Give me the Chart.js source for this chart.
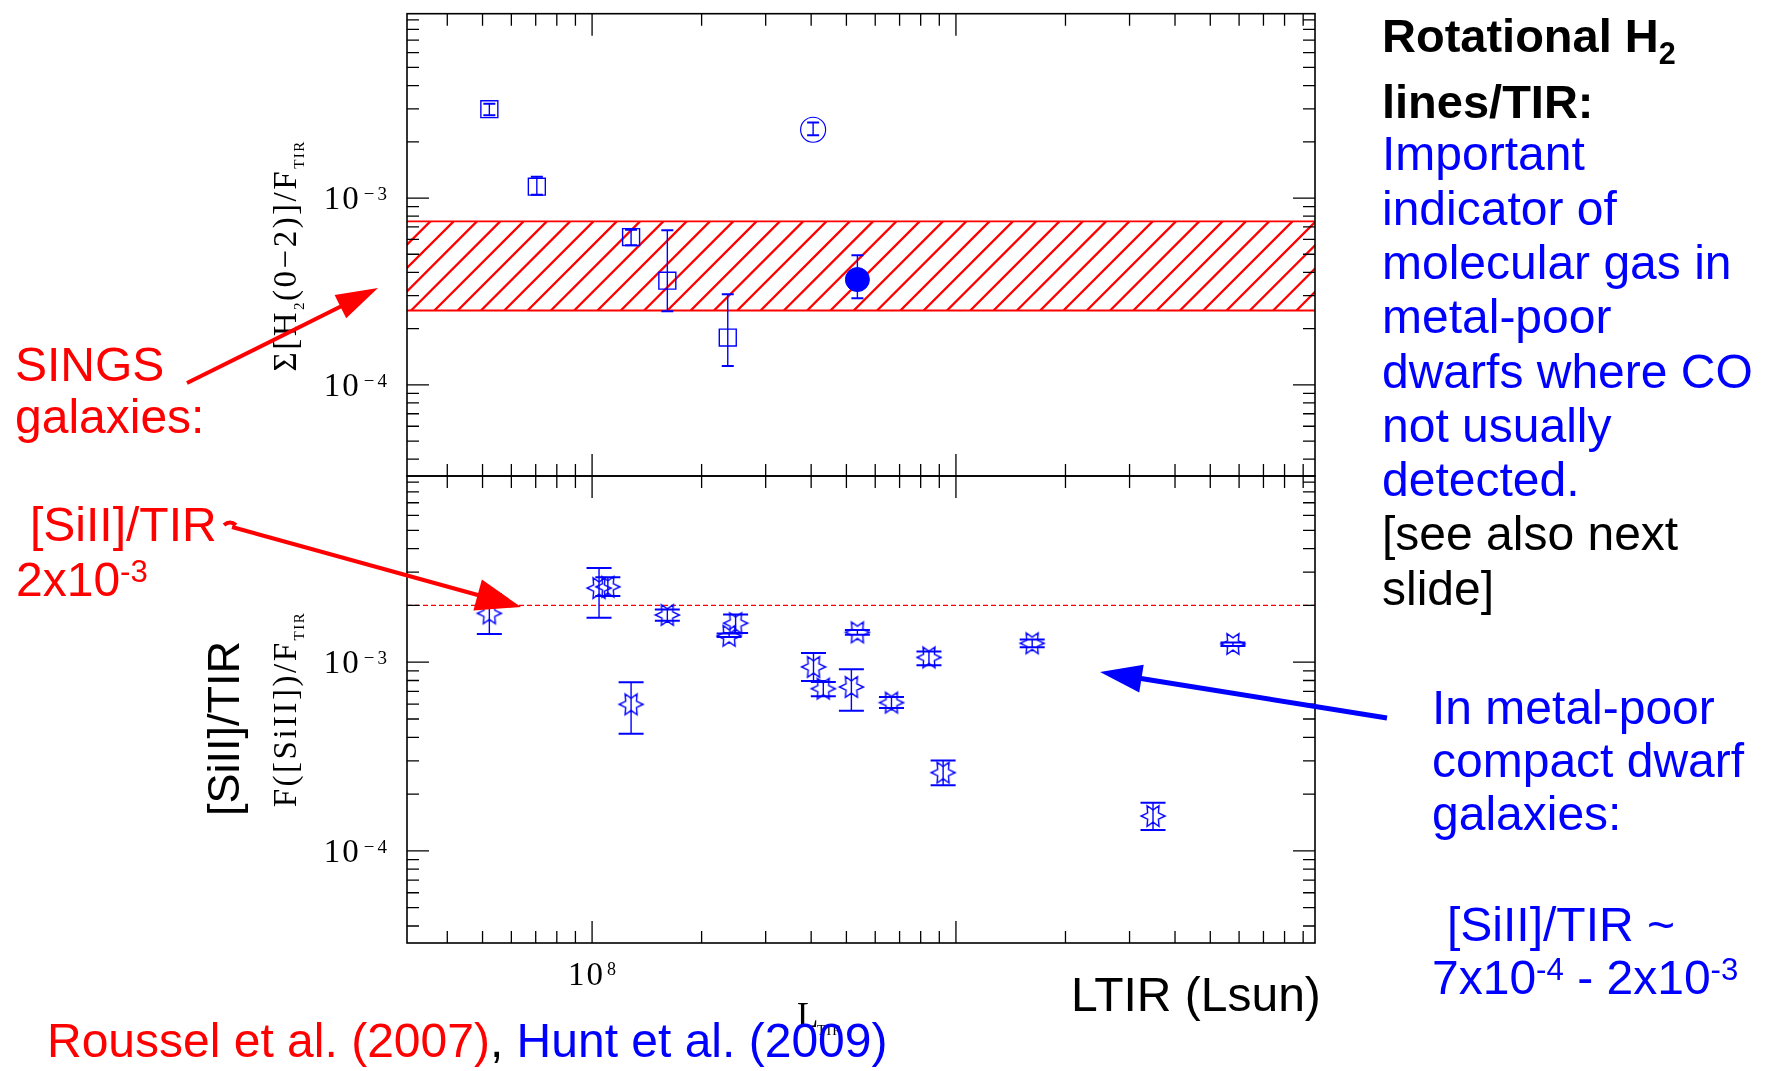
<!DOCTYPE html>
<html>
<head>
<meta charset="utf-8">
<script src="https://cdn.jsdelivr.net/npm/chart.js@4.4.1/dist/chart.umd.min.js"></script>
<style>
  html, body { margin: 0; padding: 0; background: #fff; }
  #page { position: relative; width: 1768px; height: 1071px; overflow: hidden; background: #fff; }
  #page canvas { position: absolute; left: 0; top: 0; }
  #arrows { position: absolute; left: 0; top: 0; }
  .txt { position: absolute; white-space: pre; font-family: "Liberation Sans", Arial, sans-serif; }
  .sup { font-size: 0.65em; position: relative; line-height: 0; }
  .sub { font-size: 0.65em; position: relative; line-height: 0; }
</style>
</head>
<body>
<div id="page">
  <canvas id="topPanel" width="1768" height="1071"></canvas>
  <canvas id="bottomPanel" width="1768" height="1071"></canvas>
  <svg id="arrows" width="1768" height="1071"></svg>
</div>
<script>
// ---- axis ranges (luminosity and line ratios, both logarithmic) ----
const lumRange = [3.1e7, 9.7e9];
const ratioRange = [3.25e-5, 9.7e-3];

// ---- tick values ----
const lumMajorTicks = [1e8, 1e9];
const lumMinorTicks = [4e7, 5e7, 6e7, 7e7, 8e7, 9e7,
                       2e8, 3e8, 4e8, 5e8, 6e8, 7e8, 8e8, 9e8,
                       2e9, 3e9, 4e9, 5e9, 6e9, 7e9, 8e9, 9e9];
const ratioMajorTicks = [1e-4, 1e-3];
const ratioMinorTicks = [4e-5, 5e-5, 6e-5, 7e-5, 8e-5, 9e-5,
                         2e-4, 3e-4, 4e-4, 5e-4, 6e-4, 7e-4, 8e-4, 9e-4,
                         2e-3, 3e-3, 4e-3, 5e-3, 6e-3, 7e-3, 8e-3, 9e-3];
const lumLabelTicks = [1e8];
const lumLabelExponents = ['8'];
const ratioLabelTicks = [1e-3, 1e-4];
const ratioLabelExponents = ['\u22123', '\u22124'];

// ---- H2(0-2) / TIR, dwarf galaxies ----
const h2SquareLTIR  = [5.22e7, 7.05e7, 1.28e8, 1.61e8, 2.36e8];
const h2SquareRatio = [2.99e-3, 1.15e-3, 6.18e-4, 3.61e-4, 1.79e-4];
const h2SquareLow   = [2.77e-3, 1.04e-3, 5.58e-4, 2.48e-4, 1.26e-4];
const h2SquareHigh  = [3.20e-3, 1.30e-3, 6.76e-4, 6.73e-4, 3.05e-4];

const h2CircleLTIR  = [4.05e8];
const h2CircleRatio = [2.32e-3];
const h2CircleLow   = [2.17e-3];
const h2CircleHigh  = [2.54e-3];

const h2DotLTIR  = [5.36e8];
const h2DotRatio = [3.66e-4];
const h2DotLow   = [2.91e-4];
const h2DotHigh  = [4.94e-4];

// SINGS range for the H2 ratio
const singsH2Band = [2.5e-4, 7.5e-4];

// ---- [SiII] / TIR, dwarf galaxies ----
const siiiLTIR  = [5.22e7, 1.045e8, 1.105e8, 1.28e8, 1.61e8, 2.38e8, 2.48e8, 4.06e8, 4.32e8,
                   5.16e8, 5.36e8, 6.65e8, 8.43e8, 9.22e8, 1.62e9, 3.48e9, 5.77e9];
const siiiRatio = [1.815e-3, 2.47e-3, 2.51e-3, 5.98e-4, 1.78e-3, 1.38e-3, 1.61e-3, 9.44e-4, 7.24e-4,
                   7.39e-4, 1.44e-3, 6.11e-4, 1.06e-3, 2.60e-4, 1.26e-3, 1.53e-4, 1.25e-3];
const siiiLow   = [1.41e-3, 1.72e-3, 2.24e-3, 4.18e-4, 1.66e-3, 1.36e-3, 1.43e-3, 7.95e-4, 6.59e-4,
                   5.53e-4, 1.40e-3, 5.71e-4, 9.64e-4, 2.23e-4, 1.20e-3, 1.29e-4, 1.22e-3];
const siiiHigh  = [2.30e-3, 3.16e-3, 2.82e-3, 7.83e-4, 1.905e-3, 1.42e-3, 1.79e-3, 1.12e-3, 7.86e-4,
                   9.18e-4, 1.48e-3, 6.53e-4, 1.14e-3, 3.01e-4, 1.32e-3, 1.80e-4, 1.27e-3];

// SINGS mean [SiII]/TIR
const singsSiiiRatio = 2e-3;

// ---------------------------------------------------------------
const W = 1768, H = 1071;
const FRAME = { left: 407, right: 1315, top: 11, mid: 476, bottom: 943 };
const BLUE = '#0000ff', RED = '#ff0000';
const SERIF = '"Liberation Serif", "Times New Roman", serif';

function toPoints(xs, ys) { return xs.map((x, i) => ({ x, y: ys[i] })); }

// open six-pointed star used as the point marker of the lower panel
function starMarker(color) {
  const size = 28, c = document.createElement('canvas');
  c.width = c.height = size;
  const g = c.getContext('2d');
  const cx = size / 2, cy = size / 2, R = 12, r = 6.2;
  g.beginPath();
  for (let i = 0; i < 12; i++) {
    const a = i * Math.PI / 6, rad = i % 2 === 0 ? R : r;
    const px = cx + rad * Math.cos(a), py = cy + rad * Math.sin(a);
    if (i === 0) g.moveTo(px, py); else g.lineTo(px, py);
  }
  g.closePath();
  g.strokeStyle = color; g.lineWidth = 1.4; g.stroke();
  return c;
}

// frame, inward ticks, labels, error bars, reference marks
const panelDecor = {
  id: 'panelDecor',
  beforeDatasetsDraw(chart, args, opts) {
    const { ctx, chartArea: a, scales: { x, y } } = chart;
    ctx.save();
    if (opts.band) {
      const yHi = y.getPixelForValue(opts.band[1]);
      const yLo = y.getPixelForValue(opts.band[0]);
      const h = yLo - yHi, step = 23.3;
      ctx.save();
      ctx.beginPath();
      ctx.rect(a.left, yHi, a.right - a.left, h);
      ctx.clip();
      ctx.strokeStyle = RED; ctx.lineWidth = 2.3;
      ctx.beginPath();
      for (let c = a.left - h - step * 2; c < a.right + step; c += step) {
        ctx.moveTo(c, yLo); ctx.lineTo(c + h, yHi);
      }
      ctx.stroke();
      ctx.restore();
      ctx.strokeStyle = RED; ctx.lineWidth = 1.8;
      ctx.beginPath();
      ctx.moveTo(a.left, yHi); ctx.lineTo(a.right, yHi);
      ctx.moveTo(a.left, yLo); ctx.lineTo(a.right, yLo);
      ctx.stroke();
    }
    if (opts.refLine) {
      const py = y.getPixelForValue(opts.refLine);
      ctx.strokeStyle = RED; ctx.lineWidth = 1.3; ctx.setLineDash([5, 3]);
      ctx.beginPath(); ctx.moveTo(a.left, py); ctx.lineTo(a.right, py); ctx.stroke();
      ctx.setLineDash([]);
    }
    // vertical error bars with caps
    chart.data.datasets.forEach((ds, i) => {
      if (!ds.errLow) return;
      const meta = chart.getDatasetMeta(i);
      ctx.strokeStyle = ds.errColor || BLUE;
      meta.data.forEach((pt, j) => {
        const yl = y.getPixelForValue(ds.errLow[j]);
        const yh = y.getPixelForValue(ds.errHigh[j]);
        ctx.lineWidth = 1.4;
        ctx.beginPath(); ctx.moveTo(pt.x, yl); ctx.lineTo(pt.x, yh); ctx.stroke();
        ctx.lineWidth = 2;
        ctx.beginPath();
        ctx.moveTo(pt.x - ds.capHalf, yl); ctx.lineTo(pt.x + ds.capHalf, yl);
        ctx.moveTo(pt.x - ds.capHalf, yh); ctx.lineTo(pt.x + ds.capHalf, yh);
        ctx.stroke();
      });
    });
    ctx.restore();
  },
  afterDraw(chart, args, opts) {
    const { ctx, chartArea: a, scales: { x, y } } = chart;
    ctx.save();
    // frame
    ctx.strokeStyle = '#000'; ctx.lineWidth = 1.6;
    ctx.strokeRect(a.left, a.top, a.right - a.left, a.bottom - a.top);
    // ticks on all four sides, pointing inward
    ctx.lineWidth = 1.3;
    ctx.beginPath();
    const xt = (vals, len) => vals.forEach(v => {
      const px = x.getPixelForValue(v);
      ctx.moveTo(px, a.top); ctx.lineTo(px, a.top + len);
      ctx.moveTo(px, a.bottom); ctx.lineTo(px, a.bottom - len);
    });
    const yt = (vals, len) => vals.forEach(v => {
      const py = y.getPixelForValue(v);
      ctx.moveTo(a.left, py); ctx.lineTo(a.left + len, py);
      ctx.moveTo(a.right, py); ctx.lineTo(a.right - len, py);
    });
    xt(lumMajorTicks, 22); xt(lumMinorTicks, 12);
    yt(ratioMajorTicks, 22); yt(ratioMinorTicks, 12);
    ctx.stroke();

    ctx.fillStyle = '#000';
    ctx.textBaseline = 'alphabetic';
    // y tick labels  10^n
    ratioLabelTicks.forEach((v, i) => {
      const py = y.getPixelForValue(v);
      ctx.font = '19px ' + SERIF; ctx.letterSpacing = '3px'; ctx.textAlign = 'right';
      const ew = ctx.measureText(ratioLabelExponents[i]).width;
      ctx.fillText(ratioLabelExponents[i], a.left - 17, py + 2);
      ctx.font = '33px ' + SERIF; ctx.letterSpacing = '2px';
      ctx.fillText('10', a.left - 17 - ew - 3, py + 11);
    });
    // x tick labels
    if (opts.xLabels) {
      lumLabelTicks.forEach((v, i) => {
        const px = x.getPixelForValue(v);
        ctx.textAlign = 'left';
        ctx.font = '33px ' + SERIF; ctx.letterSpacing = '2px';
        ctx.fillText('10', px - 24, a.bottom + 42);
        ctx.font = '18px ' + SERIF; ctx.letterSpacing = '0px';
        ctx.fillText(lumLabelExponents[i], px + 15, a.bottom + 32);
      });
      // x axis title  L_TIR
      ctx.font = '35px ' + SERIF; ctx.letterSpacing = '0px';
      ctx.fillText('L', a.left + 390, a.bottom + 84);
      ctx.font = '14px ' + SERIF; ctx.letterSpacing = '1px';
      ctx.fillText('TIR', a.left + 410, a.bottom + 92);
    }
    // y axis title, rotated
    const pieces = opts.yTitle;
    const mainFont = '33px ' + SERIF, subFont = '15px ' + SERIF;
    const widths = pieces.map(p => {
      ctx.font = p.sub ? subFont : mainFont;
      ctx.letterSpacing = (p.sub ? '1.5px' : '2.5px');
      return ctx.measureText(p.t).width;
    });
    const total = widths.reduce((s, w) => s + w, 0);
    const cy = (a.top + a.bottom) / 2 + opts.yTitleShift;
    ctx.translate(a.left - 111, cy + total / 2);
    ctx.rotate(-Math.PI / 2);
    ctx.textAlign = 'left';
    let off = 0;
    pieces.forEach((p, i) => {
      ctx.font = p.sub ? subFont : mainFont;
      ctx.letterSpacing = (p.sub ? '1.5px' : '2.5px');
      ctx.fillText(p.t, off, p.sub ? 8 : 0);
      off += widths[i];
    });
    ctx.restore();
  }
};

function panel(id, top, bottom, datasets, decor) {
  return new Chart(document.getElementById(id), {
    type: 'scatter',
    data: { datasets },
    options: {
      responsive: false,
      animation: false,
      devicePixelRatio: 1,
      events: [],
      layout: { padding: { left: FRAME.left, right: W - FRAME.right, top: top, bottom: H - bottom } },
      plugins: { legend: { display: false }, tooltip: { enabled: false }, panelDecor: decor },
      scales: {
        x: { type: 'logarithmic', min: lumRange[0], max: lumRange[1], display: false },
        y: { type: 'logarithmic', min: ratioRange[0], max: ratioRange[1], display: false }
      }
    },
    plugins: [panelDecor]
  });
}

panel('topPanel', FRAME.top, FRAME.mid, [
  { label: 'dwarfs (squares)', data: toPoints(h2SquareLTIR, h2SquareRatio),
    errLow: h2SquareLow, errHigh: h2SquareHigh, capHalf: 6,
    pointStyle: 'rect', pointRadius: 12, borderColor: BLUE, backgroundColor: 'rgba(0,0,0,0)', pointBorderWidth: 1.4 },
  { label: 'dwarf (open circle)', data: toPoints(h2CircleLTIR, h2CircleRatio),
    errLow: h2CircleLow, errHigh: h2CircleHigh, capHalf: 6,
    pointStyle: 'circle', pointRadius: 12.5, borderColor: BLUE, backgroundColor: 'rgba(0,0,0,0)', pointBorderWidth: 1.2 },
  { label: 'dwarf (filled circle)', data: toPoints(h2DotLTIR, h2DotRatio),
    errLow: h2DotLow, errHigh: h2DotHigh, capHalf: 6,
    pointStyle: 'circle', pointRadius: 12, borderColor: BLUE, backgroundColor: BLUE, pointBorderWidth: 1 }
], { band: singsH2Band, xLabels: false, yTitleShift: 11,
     yTitle: [{ t: '\u03A3[H' }, { t: '2', sub: true }, { t: '(0\u22122)]/F' }, { t: 'TIR', sub: true }] });

panel('bottomPanel', FRAME.mid, FRAME.bottom, [
  { label: 'dwarfs [SiII]', data: toPoints(siiiLTIR, siiiRatio),
    errLow: siiiLow, errHigh: siiiHigh, capHalf: 12.5,
    pointStyle: starMarker(BLUE), pointRadius: 10, borderColor: BLUE }
], { refLine: singsSiiiRatio, xLabels: true, yTitleShift: 0,
     yTitle: [{ t: 'F([SiII])/F' }, { t: 'TIR', sub: true }] });

// ---------------- slide annotations ----------------
const page = document.getElementById('page');
function placeText(html, x, baseline, size, color, weight) {
  const d = document.createElement('div');
  d.className = 'txt';
  const L = Math.round(size * 1.2);
  d.style.fontSize = size + 'px';
  d.style.fontWeight = weight || 400;
  d.style.lineHeight = L + 'px';
  d.style.color = color;
  d.style.left = x + 'px';
  d.style.top = (baseline - ((L - 1.117 * size) / 2 + 0.905 * size)) + 'px';
  d.innerHTML = html;
  page.appendChild(d);
  return d;
}
const SUP = v => `<span class="sup" style="top:-0.45em">${v}</span>`;

placeText('Rotational H<span class="sub" style="top:0.4em">2</span>', 1382, 52, 47, '#000', 700);
placeText('lines/TIR:', 1382, 118, 47, '#000', 700);
['Important', 'indicator of', 'molecular gas in', 'metal-poor', 'dwarfs where CO', 'not usually', 'detected.']
  .forEach((s, i) => placeText(s, 1382, 171 + i * 54.3, 48, BLUE));
placeText('[see also next', 1382, 551, 48, '#000');
placeText('slide]', 1382, 606, 48, '#000');

placeText('SINGS', 15, 382, 48, RED);
placeText('galaxies:', 15, 434, 48, RED);
placeText('[SiII]/TIR', 30, 542, 48, RED);
placeText('2x10' + SUP('-3'), 16, 597, 48, RED);

placeText('In metal-poor', 1432, 725, 48, BLUE);
placeText('compact dwarf', 1432, 778, 48, BLUE);
placeText('galaxies:', 1432, 831, 48, BLUE);
placeText('[SiII]/TIR ~', 1447, 942, 48, BLUE);
placeText('7x10' + SUP('-4') + ' - 2x10' + SUP('-3'), 1432, 995, 48, BLUE);

placeText('LTIR (Lsun)', 1071, 1012, 48, '#000');
placeText('<span style="color:#ff0000">Roussel et al. (2007)</span>, <span style="color:#0000ff">Hunt et al. (2009)</span>',
          47, 1058, 48, '#000');

// rotated axis caption
(function () {
  const size = 45, L = 54;
  const d = placeText('[SiII]/TIR', 0, 0, size, '#000');
  const b = (L - 1.117 * size) / 2 + 0.905 * size;
  const w = d.offsetWidth;
  d.style.lineHeight = L + 'px';
  d.style.transformOrigin = '0 0';
  d.style.transform = 'rotate(-90deg)';
  d.style.left = (240 - b) + 'px';
  d.style.top = (728 + w / 2) + 'px';
})();

// arrows
const svg = document.getElementById('arrows');
function arrow(x1, y1, x2, y2, color, width, headLen, headHalf, hook) {
  const dx = x2 - x1, dy = y2 - y1, len = Math.hypot(dx, dy);
  const ux = dx / len, uy = dy / len, nx = -uy, ny = ux;
  const bx = x2 - ux * headLen, by = y2 - uy * headLen;
  const ns = 'http://www.w3.org/2000/svg';
  const p = document.createElementNS(ns, 'path');
  let dStr = `M ${x1} ${y1} L ${bx + ux * 2} ${by + uy * 2}`;
  if (hook) dStr = `M ${x1 - 8} ${y1 - 2} Q ${x1 - 2} ${y1 - 7} ${x1 + 4} ${y1 - 2} ` + dStr;
  p.setAttribute('d', dStr);
  p.setAttribute('stroke', color); p.setAttribute('stroke-width', width);
  p.setAttribute('fill', 'none');
  svg.appendChild(p);
  const h = document.createElementNS(ns, 'polygon');
  h.setAttribute('points', `${x2},${y2} ${bx + nx * headHalf},${by + ny * headHalf} ${bx - nx * headHalf},${by - ny * headHalf}`);
  h.setAttribute('fill', color);
  svg.appendChild(h);
}
arrow(187, 383, 378, 288, RED, 4, 42, 13, false);
arrow(232, 527, 521, 607, RED, 4, 45, 16, true);
arrow(1387, 718, 1100, 672, BLUE, 5, 42, 14, false);
</script>
</body>
</html>
